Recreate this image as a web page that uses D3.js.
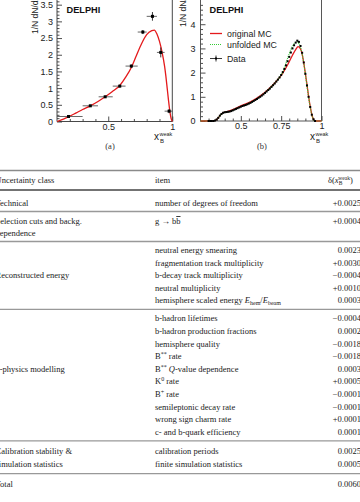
<!DOCTYPE html>
<html><head><meta charset="utf-8">
<script src="https://cdn.jsdelivr.net/npm/d3@7/dist/d3.min.js"></script>
<style>body{margin:0;background:#fff}svg{display:block}</style>
</head><body>
<svg id="c" width="360" height="502"></svg>
<script>
// ---------- Panel (a) data ----------
const aX   = [0.19, 0.36, 0.476, 0.59, 0.68, 0.77, 0.845, 0.91, 0.975];
const aY   = [0.15, 0.47, 0.74, 1.06, 1.66, 2.68, 3.15, 2.07, 0.31];
const aXlo = [0.10, 0.30, 0.425, 0.535, 0.635, 0.73, 0.80, 0.88, 0.94];
const aXhi = [0.30, 0.42, 0.535, 0.635, 0.73, 0.80, 0.88, 0.94, 1.00];
const aErr = [0.02, 0.03, 0.03, 0.04, 0.05, 0.06, 0.13, 0.15, 0.06];
const fitX = [0.10,0.15,0.20,0.25,0.30,0.36,0.42,0.476,0.53,0.59,0.64,0.68,0.72,0.76,0.80,0.84,0.86,0.88,0.90,0.92,0.94,0.95,0.96,0.97,0.98,0.99,1.00];
const fitY = [0.00,0.07,0.16,0.26,0.36,0.47,0.60,0.74,0.89,1.08,1.35,1.62,1.98,2.33,2.60,2.72,2.74,2.62,2.40,2.08,1.65,1.35,1.00,0.65,0.33,0.10,0.00];

// ---------- Panel (b) data ----------
const bX = [0.30,0.31,0.32,0.33,0.34,0.35,0.36,0.37,0.38,0.39,0.40,0.41,0.42,0.43,0.44,0.45,0.46,0.47,0.48,0.49,
            0.50,0.51,0.52,0.53,0.54,0.55,0.56,0.57,0.58,0.59,0.60,0.61,0.62,0.63,0.64,0.65,0.66,0.67,0.68,0.69,
            0.70,0.71,0.72,0.73,0.74,0.75,0.76,0.77,0.78,0.79,0.80,0.81,0.82,0.83,0.84,0.85,0.86,0.87,0.88,0.89,
            0.90,0.91,0.92,0.93,0.94,0.95,0.96];
const bY = [0.00,0.00,0.00,0.00,0.02,0.06,0.13,0.22,0.29,0.34,0.36,0.37,0.38,0.39,0.41,0.44,0.47,0.50,0.53,0.56,
            0.59,0.62,0.64,0.66,0.69,0.72,0.75,0.79,0.83,0.87,0.91,0.96,1.00,1.05,1.10,1.16,1.22,1.28,1.34,1.41,
            1.48,1.55,1.63,1.71,1.80,1.90,2.02,2.15,2.30,2.47,2.65,2.83,3.00,3.13,3.24,3.32,3.27,3.10,2.82,2.42,
            1.95,1.47,1.00,0.58,0.26,0.07,0.00];
const origX = [0.25,0.32,0.33,0.34,0.35,0.36,0.37,0.38,0.39,0.40,0.42,0.45,0.50,0.55,0.60,0.65,0.70,0.74,0.76,0.78,0.80,0.82,0.84,0.855,0.87,0.88,0.89,0.90,0.91,0.92,0.93,0.94,0.95,0.96,1.00];
const origY = [0.00,0.00,0.005,0.02,0.06,0.13,0.22,0.29,0.34,0.37,0.40,0.47,0.63,0.76,0.95,1.19,1.50,1.80,1.98,2.20,2.45,2.72,2.95,3.07,2.98,2.76,2.40,1.96,1.50,1.02,0.60,0.27,0.07,0.00,0.00];
const unfX = [0.25,0.32,0.34,0.36,0.38,0.40,0.43,0.46,0.50,0.55,0.60,0.65,0.70,0.74,0.76,0.78,0.80,0.82,0.84,0.85,0.86,0.87,0.88,0.89,0.90,0.91,0.92,0.93,0.94,0.95,0.96,1.00];
const unfY = [0.00,0.00,0.02,0.13,0.29,0.36,0.39,0.47,0.60,0.73,0.92,1.17,1.49,1.81,2.03,2.40,2.78,3.08,3.25,3.27,3.20,3.04,2.78,2.40,1.94,1.46,0.99,0.57,0.25,0.06,0.00,0.00];
const legendLabels = ["original MC", "unfolded MC", "Data"];

// ---------- Table data ----------
const tableHeader = ["Uncertainty class", "item"];
const groupNames = [["Technical"], ["Selection cuts and backg.", "dependence"], ["Reconstructed energy"], ["b-physics modelling"], ["Calibration stability &", "simulation statistics"]];
const groupSizes = [1, 1, 5, 10, 2];
const items = [
  "number of degrees of freedom",
  "g → b~b~",
  "neutral energy smearing",
  "fragmentation track multiplicity",
  "b-decay track multiplicity",
  "neutral multiplicity",
  "hemisphere scaled energy *E*_{hem}/*E*_{beam}",
  "b-hadron lifetimes",
  "b-hadron production fractions",
  "hemisphere quality",
  "B^{**} rate",
  "B^{**} *Q*-value dependence",
  "K^{0} rate",
  "B^{+} rate",
  "semileptonic decay rate",
  "wrong sign charm rate",
  "c- and b-quark efficiency",
  "calibration periods",
  "finite simulation statistics"
];
const values = ["+0.0025","+0.0004","0.0023","+0.0030","−0.0004","+0.0010","0.0003","−0.0004","0.0002","−0.0018",
                "−0.0018","0.0003","+0.0005","−0.0001","−0.0001","+0.0001","0.0001","0.0025","0.0005"];
const totalLabel = "Total";
const totalValue = "0.0060";

// ---------- Drawing ----------
const svg = d3.select("#c");
const SANS = "'Liberation Sans', Arial, Helvetica, sans-serif";
const SERIF = "'Liberation Serif', 'Times New Roman', serif";

function axisTicks(g, axisFn, scale, vals, len, pad, labels) {
  const ax = axisFn(scale).tickValues(vals).tickSize(-len).tickPadding(pad);
  ax.tickFormat(labels ? (d => d3.format("")(d)) : "");
  g.call(ax);
  g.select(".domain").remove();
  g.selectAll("line").attr("stroke", "#222").attr("stroke-width", 0.8);
  g.selectAll("text").attr("font-family", SANS).attr("font-size", 9).attr("fill", "#222");
}
function xTitle(g, x, y) {
  const t = g.append("text").attr("x", x).attr("y", y).attr("font-family", SANS).attr("fill", "#222");
  t.append("tspan").attr("font-size", 10).text("x");
  t.append("tspan").attr("font-size", 5.5).attr("dy", -4).attr("dx", 0.5).text("weak");
  g.append("text").attr("x", x + 6).attr("y", y + 3).attr("font-family", SANS).attr("font-size", 6).attr("fill", "#222").text("B");
}
function yTitle(g, x, y) {
  g.append("text").attr("transform", `translate(${x},${y}) rotate(-90)`)
    .attr("font-family", SANS).attr("font-size", 8.5).attr("fill", "#222").text("1/N dN/dx");
}

// ===== Panel (a) =====
const xa = d3.scaleLinear().domain([0.1, 1.0]).range([57, 172.3]);
const ya = d3.scaleLinear().domain([0, 3.7]).range([121.5, -2]);
const ga = svg.append("g");
axisTicks(ga.append("g").attr("transform", "translate(57,0)"), d3.axisLeft, ya,
  d3.range(0, 3.65, 0.1).map(v => +v.toFixed(1)).filter(v => Math.abs(v * 2 - Math.round(v * 2)) > 1e-6), 2.5, 4, false);
axisTicks(ga.append("g").attr("transform", "translate(57,0)"), d3.axisLeft, ya,
  [0, 0.5, 1, 1.5, 2, 2.5, 3, 3.5], 5, 4, true);
axisTicks(ga.append("g").attr("transform", "translate(0,121.5)"), d3.axisBottom, xa,
  [0.2, 0.3, 0.4, 0.6, 0.7, 0.8, 0.9], 2.5, 2.5, false);
axisTicks(ga.append("g").attr("transform", "translate(0,121.5)"), d3.axisBottom, xa,
  [0.5, 1], 5, 2.5, true);
ga.append("path").attr("d", `M57,-2V121.5H172.3V-2`).attr("fill", "none").attr("stroke", "#333").attr("stroke-width", 0.9);
ga.append("path").datum(fitX.map((x, i) => [x, fitY[i]]))
  .attr("d", d3.line().x(d => xa(d[0])).y(d => ya(d[1])).curve(d3.curveMonotoneX))
  .attr("fill", "none").attr("stroke", "#e41a1c").attr("stroke-width", 1.3);
aX.forEach((x, i) => {
  ga.append("line").attr("x1", xa(aXlo[i])).attr("x2", xa(aXhi[i])).attr("y1", ya(aY[i])).attr("y2", ya(aY[i]))
    .attr("stroke", "#555").attr("stroke-width", 0.9);
  ga.append("line").attr("x1", xa(x)).attr("x2", xa(x)).attr("y1", ya(aY[i] - aErr[i])).attr("y2", ya(aY[i] + aErr[i]))
    .attr("stroke", "#222").attr("stroke-width", 0.9);
  ga.append("rect").attr("x", xa(x) - 1.5).attr("y", ya(aY[i]) - 1.5).attr("width", 3).attr("height", 3).attr("fill", "#000");
});
ga.append("text").attr("x", 66.5).attr("y", 12.5).attr("font-family", SANS).attr("font-weight", "bold")
  .attr("font-size", 9.2).attr("fill", "#111").text("DELPHI");
yTitle(ga, 38, 34);
xTitle(ga, 154, 140);
svg.append("text").attr("x", 110).attr("y", 149).attr("text-anchor", "middle").attr("font-family", SERIF)
  .attr("font-size", 8.5).attr("fill", "#333").text("(a)");

// ===== Panel (b) =====
const xb = d3.scaleLinear().domain([0.25, 1.0]).range([200.5, 321.5]);
const yb = d3.scaleLinear().domain([0, 5.1]).range([121, -2.4]);
const gb = svg.append("g");
const yMinB = d3.range(0, 5.1, 0.2).map(v => +v.toFixed(1)).filter(v => Math.abs(v - Math.round(v)) > 1e-6);
axisTicks(gb.append("g").attr("transform", "translate(200.5,0)"), d3.axisLeft, yb, yMinB, 2.5, 5, false);
axisTicks(gb.append("g").attr("transform", "translate(200.5,0)"), d3.axisLeft, yb, [0, 1, 2, 3, 4], 5, 5, true);
const xMinB = d3.range(0.30, 1.0, 0.05).map(v => +v.toFixed(2)).filter(v => ![0.5, 0.75].includes(v));
axisTicks(gb.append("g").attr("transform", "translate(0,121)"), d3.axisBottom, xb, xMinB, 2.5, 2, false);
axisTicks(gb.append("g").attr("transform", "translate(0,121)"), d3.axisBottom, xb, [0.5, 0.75, 1], 5, 2, true);
gb.append("path").attr("d", `M200.5,-2V121H321.5V-2`).attr("fill", "none").attr("stroke", "#444").attr("stroke-width", 0.9);
const lineB = d3.line().x(d => xb(d[0])).y(d => yb(d[1])).curve(d3.curveMonotoneX);
gb.append("path").datum(origX.map((x, i) => [x, origY[i]])).attr("d", lineB)
  .attr("fill", "none").attr("stroke", "#e41a1c").attr("stroke-width", 1.3);
gb.append("path").datum(unfX.map((x, i) => [x, unfY[i]])).attr("d", lineB)
  .attr("fill", "none").attr("stroke", "#33cc33").attr("stroke-width", 1.2).attr("stroke-dasharray", "1,1");
bX.forEach((x, i) => {
  gb.append("rect").attr("x", xb(x) - 1).attr("y", yb(bY[i]) - 1).attr("width", 2).attr("height", 2).attr("fill", "#000");
});
gb.append("text").attr("x", 209.5).attr("y", 12.5).attr("font-family", SANS).attr("font-weight", "bold")
  .attr("font-size", 9.2).attr("fill", "#111").text("DELPHI");
// legend
const lg = gb.append("g").attr("font-family", SANS).attr("font-size", 8.8).attr("fill", "#222");
lg.append("line").attr("x1", 210).attr("x2", 222).attr("y1", 33.5).attr("y2", 33.5).attr("stroke", "#e41a1c").attr("stroke-width", 1.3);
lg.append("line").attr("x1", 210).attr("x2", 222).attr("y1", 44.5).attr("y2", 44.5).attr("stroke", "#33cc33").attr("stroke-width", 1.2).attr("stroke-dasharray", "1,1");
lg.append("line").attr("x1", 210).attr("x2", 222).attr("y1", 58.5).attr("y2", 58.5).attr("stroke", "#222").attr("stroke-width", 0.9);
lg.append("line").attr("x1", 216).attr("x2", 216).attr("y1", 55.5).attr("y2", 61.5).attr("stroke", "#222").attr("stroke-width", 0.9);
lg.append("rect").attr("x", 215).attr("y", 57.5).attr("width", 2).attr("height", 2).attr("fill", "#000");
[33.5, 44.5, 58.5].forEach((y, i) => lg.append("text").attr("x", 227).attr("y", y + 3.2).text(legendLabels[i]));
yTitle(gb, 186, 27);
xTitle(gb, 310, 140);
svg.append("text").attr("x", 262).attr("y", 149).attr("text-anchor", "middle").attr("font-family", SERIF)
  .attr("font-size", 8.5).attr("fill", "#333").text("(b)");

// ===== Table =====
function rich(sel, str) {
  const re = /(\^\{[^}]*\}|_\{[^}]*\}|\*[^*]+\*|~[^~]+~|[^^_*~]+)/g;
  let m;
  while ((m = re.exec(str)) !== null) {
    const tok = m[0];
    if (tok.startsWith("^{")) sel.append("tspan").attr("font-size", 6).attr("baseline-shift", "3.2").text(tok.slice(2, -1));
    else if (tok.startsWith("_{")) sel.append("tspan").attr("font-size", 6).attr("baseline-shift", "-1.8").text(tok.slice(2, -1));
    else if (tok.startsWith("*")) sel.append("tspan").attr("font-style", "italic").text(tok.slice(1, -1));
    else if (tok.startsWith("~")) sel.append("tspan").attr("text-decoration", "overline").text(tok.slice(1, -1));
    else sel.append("tspan").text(tok);
  }
}
const tg = svg.append("g").attr("font-family", SERIF).attr("font-size", 8.5).attr("fill", "#1a1a1a");
const colClass = -4.5, colItem = 155, colVal = 361;
function rule(y, color, w) {
  tg.append("line").attr("x1", 0).attr("x2", 360).attr("y1", y).attr("y2", y).attr("stroke", color).attr("stroke-width", w);
}
function txt(x, y, anchor) {
  return tg.append("text").attr("x", x).attr("y", y + 3).attr("text-anchor", anchor || "start");
}
rule(170.5, "#8a8a8a", 1.6);
txt(colClass, 180).text(tableHeader[0]);
txt(colItem, 180).text(tableHeader[1]);
const hd = txt(328, 180);
hd.append("tspan").text("δ(");
hd.append("tspan").attr("font-style", "italic").text("x");
hd.append("tspan").attr("font-size", 5.5).attr("baseline-shift", "-1.8").text("B");
hd.append("tspan").attr("font-size", 5.5).attr("dx", -4).attr("baseline-shift", "3.5").text("weak");
hd.append("tspan").text(")");
rule(190, "#444", 1.4);

const pitches  = [12.6, 12.6, 12.6, 12.6, 13.4];
const firstGap = [12.5, 9.5, 8.5, 9, 10];
let ruleY = 190, k = 0;
groupSizes.forEach((n, gi) => {
  const y0 = ruleY + firstGap[gi];
  const rowsY = d3.range(n).map(r => y0 + r * pitches[gi]);
  rowsY.forEach(ry => {
    rich(txt(colItem, ry), items[k]);
    txt(colVal, ry, "end").text(values[k]);
    k++;
  });
  const names = groupNames[gi];
  let cy;
  if (names.length === 2 && n === 1) cy = [y0, y0 + 11.5];
  else if (names.length === 2) cy = rowsY;
  else if (n === 10) cy = [rowsY[4]];
  else cy = [rowsY[Math.floor((n - 1) / 2)]];
  names.forEach((nm, j) => txt(colClass, cy[j]).text(nm));
  const lastY = names.length === 2 && n === 1 ? y0 + 11.5 : rowsY[n - 1];
  ruleY = lastY + (gi === 4 ? 9.5 : 9);
  rule(ruleY, "#999", 1.3);
});
txt(colClass, ruleY + 10).text(totalLabel);
txt(colVal, ruleY + 10, "end").text(totalValue);
</script>
</body></html>
